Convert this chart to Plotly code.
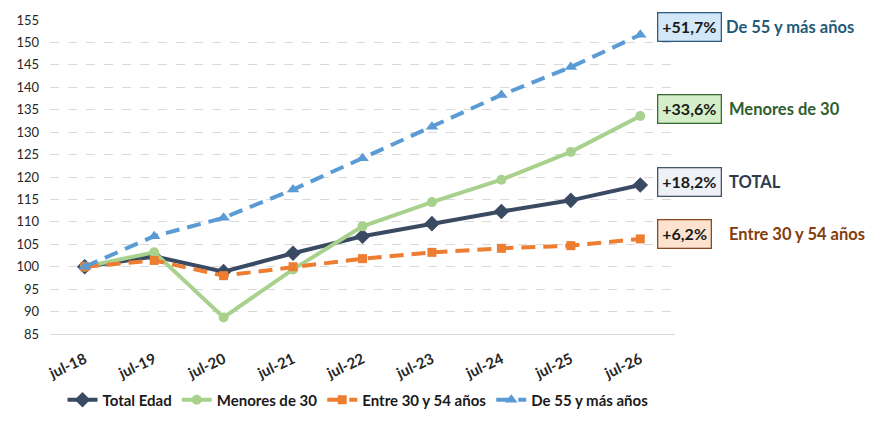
import plotly.graph_objects as go

# Índice base jul-18 = 100
periodos = ["jul-18", "jul-19", "jul-20", "jul-21", "jul-22", "jul-23", "jul-24", "jul-25", "jul-26"]
total_edad = [100.0, 102.3, 98.9, 103.0, 106.8, 109.6, 112.3, 114.8, 118.2]
menores_30 = [100.0, 103.2, 88.7, 99.4, 109.0, 114.4, 119.4, 125.6, 133.6]
entre_30_54 = [100.0, 101.4, 98.0, 100.0, 101.8, 103.2, 104.1, 104.7, 106.2]
de_55_mas = [100.0, 106.8, 110.9, 117.2, 124.2, 131.2, 138.3, 144.5, 151.7]

variaciones = ["+51,7%", "+33,6%", "+18,2%", "+6,2%"]
etiquetas = ["De 55 y más años", "Menores de 30", "TOTAL", "Entre 30 y 54 años"]

FONT = "Lato"
OFF = 8  # margen por defecto del body de la página
W, H = 876 - OFF, 423 - OFF
L, R, T, B = 50 - OFF, 201, 20 - OFF, 89
pw, ph = W - L - R, H - T - B


def px_x(px):
    return (px - OFF - L) / pw


def px_y(py):
    return (H - B - (py - OFF)) / ph


series = [
    ("Total Edad", total_edad, "#3B4A63", "solid", "diamond", 12),
    ("Menores de 30", menores_30, "#A9D18E", "solid", "circle", 10),
    ("Entre 30 y 54 años", entre_30_54, "#ED7D31", "14px,8px", "square", 9),
    ("De 55 y más años", de_55_mas, "#5B9BD5", "14px,8px", "triangle-up", 11),
]

fig = go.Figure()
for name, vals, color, dash, symbol, size in series:
    fig.add_trace(go.Scatter(
        x=periodos, y=vals, name=name,
        mode="lines+markers",
        line=dict(color=color, width=4, dash=dash),
        marker=dict(symbol=symbol, size=size, color=color),
    ))

# cajas de variación a la derecha
cajas = [
    (27, 724, "#D2E7F8", "#2E5C83", "#1F5A78"),
    (109, 727, "#D3EEC9", "#3A6B35", "#2E5E2E"),
    (181.5, 727, "#EEF1F6", "#44546A", "#2F3B4F"),
    (233.5, 727, "#FCE2CF", "#8B4A1F", "#843C0C"),
]
annotations = []
for (cy, lx, fill, border, tcolor), var, lab in zip(cajas, variaciones, etiquetas):
    annotations.append(dict(
        xref="paper", yref="paper", x=px_x(657), y=px_y(cy),
        xanchor="left", yanchor="middle", showarrow=False,
        text=f"<b>{var}</b>", font=dict(family=FONT, size=16, color="#1A1A1A"),
        bgcolor=fill, bordercolor=border, borderwidth=1.3, borderpad=4,
    ))
    annotations.append(dict(
        xref="paper", yref="paper", x=px_x(lx), y=px_y(cy),
        xanchor="left", yanchor="middle", showarrow=False,
        text=f"<b>{lab}</b>", font=dict(family=FONT, size=16.5, color=tcolor),
    ))

fig.update_layout(
    width=W, height=H,
    margin=dict(l=L, r=R, t=T, b=B, autoexpand=False),
    plot_bgcolor="white", paper_bgcolor="white",
    font=dict(family=FONT, color="#404040"),
    annotations=annotations,
    legend=dict(
        orientation="h", xanchor="center", x=px_x(358),
        yanchor="middle", y=px_y(400),
        font=dict(family=FONT, size=15, color="#1A1A1A", weight="bold"),
        itemwidth=30, tracegroupgap=0,
    ),
)
fig.update_xaxes(
    type="category", range=[-0.5, 8.5], automargin=False,
    tickangle=-25, tickfont=dict(size=15, color="#262626", weight="bold"),
    showgrid=False, showline=True, linecolor="#D9D9D9", linewidth=1,
    ticks="", ticklabelstandoff=10,
)
fig.update_yaxes(
    range=[85, 155], dtick=5, tick0=85, automargin=False,
    tickfont=dict(size=13, color="#262626"),
    showgrid=True, gridcolor="#D9D9D9", griddash="dash", gridwidth=1,
    zeroline=False, ticks="", ticklabelstandoff=10,
)

fig.write_html("out.html")
